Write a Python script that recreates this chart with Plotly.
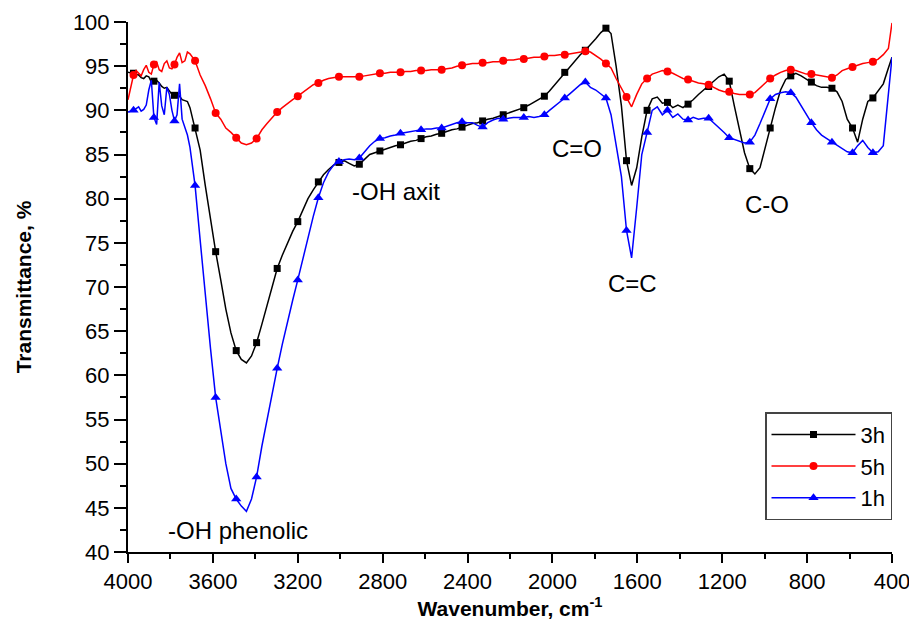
import plotly.graph_objects as go

# Wavenumber sampling (cm^-1)
WN = [4000, 3974, 3962, 3950, 3938, 3926, 3914, 3902, 3890, 3878,
      3865, 3853, 3841, 3829, 3817, 3805, 3793, 3781, 3769, 3757,
      3745, 3732, 3720, 3708, 3684, 3660, 3636, 3611, 3587, 3563, 3539,
      3515, 3490, 3466, 3442, 3418, 3394, 3369, 3345, 3321, 3297,
      3273, 3248, 3224, 3200, 3176, 3152, 3127, 3103, 3079, 3055,
      3031, 3006, 2982, 2958, 2934, 2910, 2885, 2861, 2837, 2813,
      2789, 2764, 2740, 2716, 2692, 2668, 2643, 2619, 2595, 2571,
      2547, 2522, 2498, 2474, 2450, 2426, 2401, 2377, 2353, 2329,
      2305, 2280, 2256, 2232, 2208, 2184, 2159, 2135, 2111, 2087,
      2063, 2038, 2014, 1990, 1966, 1942, 1917, 1893, 1869, 1845,
      1821, 1796, 1772, 1748, 1724, 1700, 1675, 1651, 1627, 1603,
      1579, 1554, 1530, 1506, 1482, 1458, 1433, 1409, 1385, 1361,
      1337, 1312, 1288, 1264, 1240, 1216, 1191, 1167, 1143, 1119,
      1095, 1070, 1046, 1022, 998, 974, 949, 925, 901, 877,
      853, 828, 804, 780, 756, 732, 707, 683, 659, 635,
      611, 586, 562, 538, 514, 490, 465, 441, 417, 400]

# 3h transmittance (%)
T_3H = [94.3, 94.2, 94.1, 94.0, 93.7, 93.6, 93.9, 93.8, 93.2, 93.3,
        93.4, 93.1, 92.7, 92.5, 92.6, 92.2, 91.8, 91.7, 91.9, 91.6,
        91.2, 91.1, 91.0, 90.3, 88.0, 85.5, 81.5, 77.5, 74.0, 70.8, 67.5,
        64.8, 62.8, 61.8, 61.4, 62.2, 63.7, 65.8, 68.0, 70.2, 72.1,
        73.6, 75.0, 76.3, 77.4, 78.8, 80.0, 81.0, 81.9, 82.7, 83.3,
        83.8, 84.1, 84.3, 84.0, 83.7, 83.9, 84.5, 85.0, 85.2, 85.4,
        85.6, 85.8, 86.0, 86.1, 86.3, 86.5, 86.6, 86.8, 87.0, 87.1,
        87.3, 87.4, 87.6, 87.8, 87.9, 88.1, 88.3, 88.5, 88.6, 88.8,
        89.0, 89.1, 89.3, 89.5, 89.7, 89.9, 90.1, 90.3, 90.6, 90.9,
        91.2, 91.6, 92.2, 92.9, 93.6, 94.3, 95.0, 95.7, 96.3, 96.8,
        97.4, 98.1, 98.8, 99.3, 98.7, 95.0, 90.5, 84.3, 81.5, 83.5,
        87.0, 90.0, 91.3, 91.5, 90.8, 90.9, 90.3, 90.6, 90.3, 90.7,
        91.2, 91.8, 92.3, 92.7, 93.3, 93.8, 94.1, 93.3, 90.5, 87.8,
        85.2, 83.4, 82.8, 83.5, 85.8, 88.0, 90.3, 92.3, 93.5, 93.9,
        94.2, 93.9, 93.5, 93.2, 92.8, 92.6, 92.6, 92.5, 92.1, 91.0,
        89.0, 88.0, 86.4, 89.0, 91.0, 91.4, 92.2, 93.0, 94.8, 96.0]

# 5h transmittance (%)
T_5H = [91.2, 94.0, 94.5, 94.2, 93.9, 94.6, 95.1, 94.3, 94.1, 95.2,
        95.5, 94.6, 94.4, 95.3, 95.6, 94.8, 94.7, 95.2, 96.0, 96.5,
        95.4, 95.6, 96.6, 96.4, 95.6, 94.0, 92.8, 91.3, 89.7, 89.0, 88.0,
        87.5, 86.9, 86.3, 86.1, 86.3, 86.8, 87.8, 88.5, 89.2, 89.8,
        90.3, 90.8, 91.2, 91.6, 92.0, 92.5, 92.9, 93.1, 93.4, 93.6,
        93.7, 93.8, 93.8, 93.8, 93.8, 93.8, 93.9, 94.0, 94.1, 94.2,
        94.2, 94.3, 94.3, 94.3, 94.4, 94.4, 94.5, 94.5, 94.5, 94.6,
        94.6, 94.6, 94.7, 94.8, 95.0, 95.1, 95.2, 95.3, 95.3, 95.4,
        95.4, 95.5, 95.5, 95.6, 95.7, 95.7, 95.8, 95.8, 95.9, 96.0,
        96.0, 96.1, 96.2, 96.2, 96.3, 96.3, 96.4, 96.5, 96.6, 96.7,
        96.6, 96.2, 95.8, 95.3, 94.8, 93.6, 92.5, 91.5, 90.4, 91.8,
        93.0, 93.6, 94.1, 94.3, 94.5, 94.4, 94.2, 93.9, 93.6, 93.5,
        93.3, 93.1, 93.0, 92.9, 92.6, 92.3, 92.1, 92.1, 91.9, 91.8,
        91.8, 91.8, 92.0, 92.5, 93.0, 93.6, 94.0, 94.3, 94.5, 94.6,
        94.5, 94.3, 94.1, 94.1, 94.0, 93.9, 93.8, 93.7, 94.0, 94.5,
        94.7, 94.9, 95.1, 95.3, 95.4, 95.5, 95.8, 96.3, 97.0, 99.9]

# 1h transmittance (%)
T_1H = [89.8, 90.0, 90.2, 90.4, 89.9, 90.1, 90.6, 92.3, 93.4, 89.2,
        88.4, 93.2, 90.5, 89.5, 92.6, 91.8, 90.0, 88.8, 89.5, 93.0,
        89.0, 88.0, 87.2, 85.8, 81.5, 75.3, 68.9, 63.0, 57.5, 53.5, 50.0,
        47.2, 46.0, 45.2, 44.6, 46.0, 48.5, 52.0, 55.0, 58.0, 60.8,
        63.5, 66.2, 68.5, 70.8, 73.2, 75.8, 78.0, 80.1, 81.8, 83.0,
        83.8, 84.2, 84.4, 84.5, 84.4, 84.6, 85.3, 86.0, 86.5, 86.8,
        86.9, 87.1, 87.2, 87.4, 87.5, 87.6, 87.7, 87.8, 87.9, 87.9,
        88.0, 88.0, 88.2, 88.4, 88.6, 88.7, 88.6, 88.6, 88.3, 88.1,
        88.6, 88.9, 89.1, 89.0, 89.1, 89.2, 89.2, 89.2, 89.3, 89.2,
        89.3, 89.5, 90.0, 90.5, 91.0, 91.4, 91.9, 92.4, 92.9, 93.2,
        92.6, 92.3, 91.8, 91.4, 89.5, 86.0, 82.5, 76.4, 73.3, 79.0,
        85.0, 87.5, 90.0, 90.4, 89.5, 90.0, 89.2, 89.6, 89.0, 88.9,
        89.2, 89.0, 89.1, 89.1, 88.6, 88.0, 87.5, 86.9, 86.7, 86.5,
        86.3, 86.4, 87.2, 88.5, 90.0, 91.3, 91.8, 92.0, 92.1, 92.0,
        91.5, 90.5, 89.5, 88.6, 87.8, 87.2, 86.8, 86.4, 86.0, 85.6,
        85.3, 85.2, 86.0, 86.6, 85.8, 85.2, 85.3, 86.0, 91.5, 96.0]

# Wavenumbers at which symbols are drawn
MARKER_WN = [3974, 3878, 3781, 3684, 3587, 3490, 3394, 3297, 3200, 3103,
             3006, 2910, 2813, 2716, 2619, 2522, 2426, 2329, 2232, 2135,
             2038, 1942, 1845, 1748, 1651, 1554, 1458, 1361, 1264, 1167,
             1070, 974, 877, 780, 683, 586, 490]

SERIES = [("3h", T_3H, "#000000", "square", 7),
          ("5h", T_5H, "#ff0000", "circle", 8),
          ("1h", T_1H, "#0000ff", "triangle-up", 9)]

# Band labels
LABELS = ["-OH phenolic", "-OH axit", "C=O", "C=C", "C-O"]
LABEL_X = [3480, 2735, 1884, 1625, 989]
LABEL_Y = [42.4, 80.8, 85.7, 70.4, 79.3]

FONT = "Arial, Liberation Sans, sans-serif"

fig = go.Figure()
mset = set(MARKER_WN)
for name, ys, color, sym, ms in SERIES:
    assert len(ys) == len(WN)
    fig.add_trace(go.Scatter(x=WN, y=ys, mode="lines", showlegend=False,
                             line=dict(color=color, width=1.5), hoverinfo="skip"))
    mx = [w for w in WN if w in mset]
    my = [t for w, t in zip(WN, ys) if w in mset]
    fig.add_trace(go.Scatter(x=mx, y=my, mode="markers", showlegend=False,
                             marker=dict(color=color, symbol=sym, size=ms)))
    fig.add_trace(go.Scatter(x=[None], y=[None], mode="lines+markers", name=name,
                             line=dict(color=color, width=1.5),
                             marker=dict(color=color, symbol=sym, size=ms)))

for txt, lx, ly in zip(LABELS, LABEL_X, LABEL_Y):
    fig.add_annotation(x=lx, y=ly, text=txt, showarrow=False,
                       font=dict(family=FONT, size=24, color="#000000"))

# The page body adds an 8px offset, so the figure is sized to fit the window.
fig.update_layout(
    width=909, height=613,
    margin=dict(l=120, r=25, t=14, b=69),
    paper_bgcolor="white", plot_bgcolor="white",
    font=dict(family=FONT, color="#000000"),
    legend=dict(x=1, xanchor="right", y=0.06, yanchor="bottom",
                bgcolor="white", bordercolor="#444444", borderwidth=1.5,
                font=dict(family=FONT, size=22), itemwidth=84,
                tracegroupgap=0),
    xaxis=dict(range=[4000, 400], tick0=400, dtick=400, automargin=False,
               ticks="outside", ticklen=9, tickwidth=2, tickcolor="#000",
               showline=True, linewidth=2, linecolor="#000",
               showgrid=False, zeroline=False,
               tickfont=dict(family=FONT, size=22),
               minor=dict(dtick=200, ticks="outside", ticklen=5, tickwidth=2, tickcolor="#000"),
               title=dict(text="<b>Wavenumber, cm<sup>-1</sup></b>",
                          font=dict(family=FONT, size=21), standoff=6)),
    yaxis=dict(range=[40, 100], tick0=40, dtick=5, automargin=False,
               ticks="outside", ticklen=12, tickwidth=2, tickcolor="#000",
               showline=True, linewidth=2, linecolor="#000",
               showgrid=False, zeroline=False,
               tickfont=dict(family=FONT, size=22),
               minor=dict(dtick=2.5, ticks="outside", ticklen=6, tickwidth=2, tickcolor="#000"),
               title=dict(text="<b>Transmittance, %</b>",
                          font=dict(family=FONT, size=21), standoff=36)),
)

fig.write_html("out.html")
